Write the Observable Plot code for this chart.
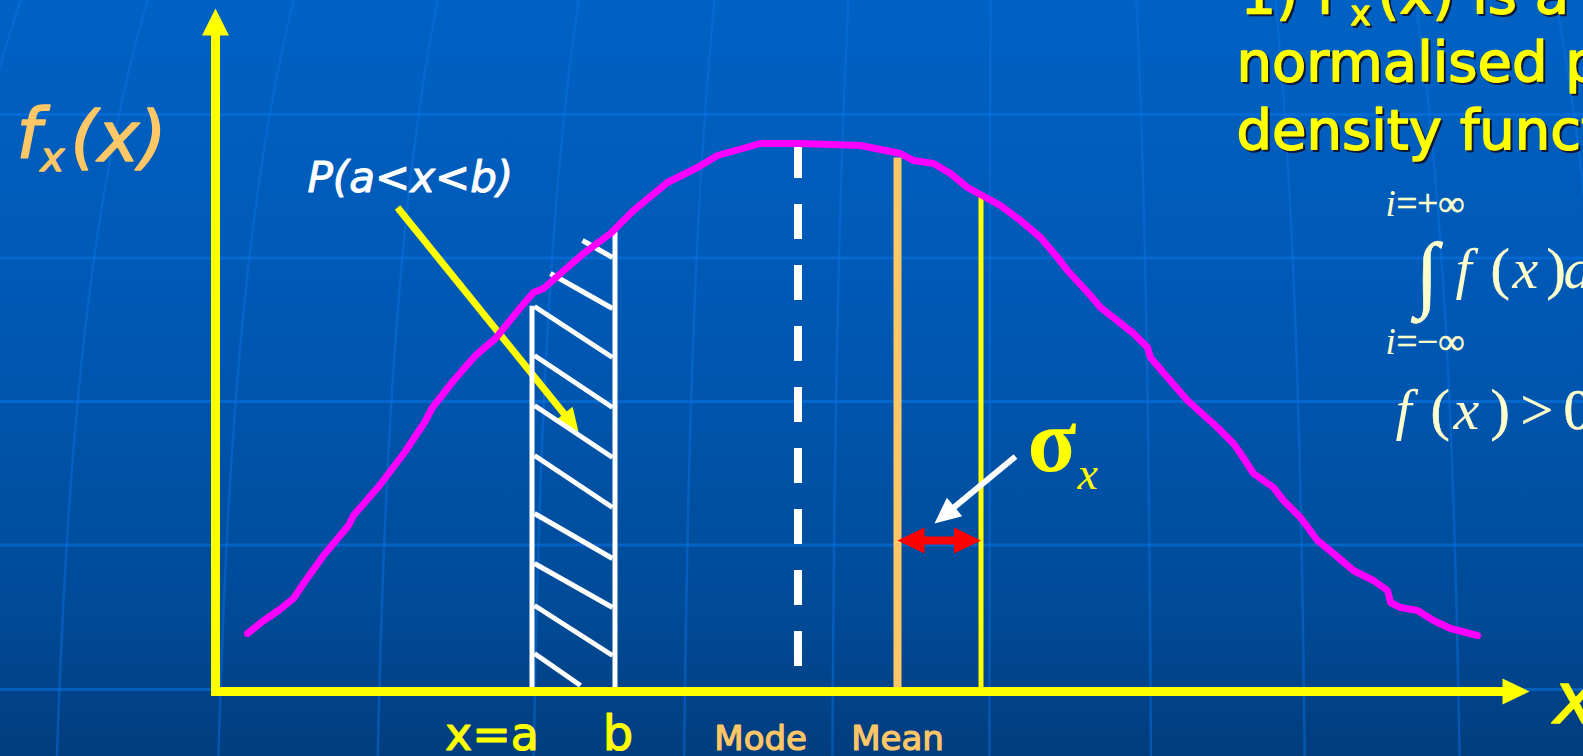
<!DOCTYPE html>
<html>
<head>
<meta charset="utf-8">
<title>Probability density function</title>
<script src="https://cdn.jsdelivr.net/npm/d3@7"></script>
<script src="https://cdn.jsdelivr.net/npm/@observablehq/plot@0.6"></script>
<style>
  html, body { margin: 0; padding: 0; overflow: hidden; background: #0256ad; }
  #chart svg {
    display: block;
    overflow: hidden;
    background: linear-gradient(to bottom, #0062c4 0%, #0057b2 45%, #004b98 80%, #023d7e 100%);
  }
</style>
</head>
<body>
<div id="chart"></div>
<script>
// ---- Sketched density curve f_x(x) (x along the axis, height = density) ----
const curveX = [0.32, 0.47, 0.63, 0.78, 0.88, 1.08, 1.33, 1.38, 1.64, 1.89, 2.09, 2.17, 2.39, 2.60, 2.80,
  3.05, 3.18, 3.28, 3.45, 3.68, 3.95, 4.18, 4.52, 4.82, 5.02, 5.45, 5.85, 6.45, 6.85, 6.98, 7.18, 7.35,
  7.52, 7.85, 8.05, 8.25, 8.42, 8.52, 8.63, 8.75, 8.85, 9.18, 9.32, 9.35, 9.52, 9.72, 10.02, 10.18,
  10.25, 10.38, 10.58, 10.68, 10.85, 11.02, 11.18, 11.38, 11.58, 11.72, 11.75, 11.85, 12.02, 12.18,
  12.35, 12.62];
const curveY = [0.58, 0.70, 0.81, 0.93, 1.08, 1.36, 1.66, 1.76, 2.06, 2.39, 2.69, 2.84, 3.12, 3.36, 3.53,
  3.84, 3.99, 4.03, 4.18, 4.38, 4.58, 4.81, 5.09, 5.24, 5.36, 5.48, 5.48, 5.46, 5.38, 5.31, 5.28, 5.18,
  5.04, 4.86, 4.71, 4.54, 4.34, 4.21, 4.09, 3.96, 3.84, 3.58, 3.44, 3.34, 3.14, 2.91, 2.64, 2.48,
  2.38, 2.18, 2.04, 1.91, 1.74, 1.51, 1.38, 1.21, 1.11, 1.01, 0.89, 0.84, 0.81, 0.71,
  0.63, 0.56];

// ---- Key positions on the x axis ----
const a = 3.165, b = 3.995;          // interval for P(a<x<b)
const mode = 5.825, mean = 6.82;      // mode and mean
const sigma = 0.835;                  // one standard deviation
const sigmaLevel = 1.51;              // height of the σ marker

// ---- Hatching of the area between a and b (left end, right end) ----
const hatchX1 = [3.67, 3.35, 3.19, 3.19, 3.19, 3.19, 3.19, 3.19, 3.19, 3.19];
const hatchY1 = [4.51, 4.18, 3.85, 3.36, 2.86, 2.36, 1.78, 1.28, 0.86, 0.38];
const hatchX2 = [3.97, 3.97, 3.97, 3.97, 3.97, 3.97, 3.97, 3.97, 3.97, 3.65];
const hatchY2 = [4.34, 3.83, 3.34, 2.84, 2.34, 1.84, 1.33, 0.84, 0.36, 0.06];

// ---- Axis extents ----
const axisTop = 6.83, axisRight = 13.14;

// ---- Labels under the x axis ----
const tickLabels = ["x=a", "b", "Mode", "Mean"];
const tickAt = [a + 0.07, b + 0.03, mode + 0.09, mean];
const tickAnchor = ["end", "middle", "end", "middle"];
const tickSize = [46, 48, 34, 34];
const tickColor = ["#ffff00", "#ffff00", "#ffc766", "#ffc766"];
const tickBaseline = -0.585;

// ---- Note in the upper right corner ----
const noteText = ["1)", "f", "x", "(x) is a", "normalised pr", "density funct"];
const noteX = [10.25, 11.01, 11.35, 11.62, 10.21, 10.21];
const noteY = [6.79, 6.79, 6.67, 6.79, 6.11, 5.43];
const noteSize = [56, 56, 34, 56, 56, 56];

// ---- Normalisation formula ----
const formulaText = ["i", "=+∞", "∫", "f", "(", "x", ")", "dx = 1", "i", "=−∞", "f", "(", "x", ")", ">", "0"];
const formulaX = [11.70, 11.81, 12.00, 12.40, 12.75, 12.97, 13.31, 13.48, 11.70, 11.81, 11.80, 12.15, 12.38, 12.75, 13.05, 13.48];
const formulaY = [4.76, 4.76, 3.91, 4.04, 4.04, 4.04, 4.04, 4.04, 3.38, 3.38, 2.63, 2.63, 2.63, 2.63, 2.63, 2.63];
const formulaSize = [37, 37, 84, 58, 58, 58, 58, 58, 37, 37, 58, 58, 58, 58, 58, 58];
const formulaItalic = [1, 0, 0, 1, 0, 1, 0, 1, 1, 0, 1, 0, 1, 0, 0, 0];

// ---- Backdrop grid ----
const gridY = [5.77, 4.335, 2.90, 1.465, 0.02];
const meridianTops = [-1.95, -0.68, 0.78, 2.22, 3.63, 4.99, 6.33, 7.75, 9.21, 10.60, 12.00, 13.40];

const xDomain = [-2.15, 13.68];
const yDomain = [-0.65, 6.91];
const FONT = "DejaVu Sans";
const SERIF = "Liberation Serif";
const ORANGE = "#ffc766";
const YELLOW = "#ffff00";
const CREAM = "#ffffcc";

const curve = curveX.map((x, i) => ({x, y: curveY[i]}));
const densityAt = (x) => {
  const i = Math.max(1, d3.bisectLeft(curveX, x));
  const t = (x - curveX[i - 1]) / (curveX[i] - curveX[i - 1]);
  return curveY[i - 1] + t * (curveY[i] - curveY[i - 1]);
};

// Meridians of the backdrop fan out slightly toward the bottom
const fanCentre = 7.85;
const meridians = meridianTops.flatMap((x0, id) => d3.range(0, 64).map((k) => {
  const t = k * 0.12;
  const f = 1 + 0.12 * (1 - Math.exp(-t / 3.5));
  return {id, x: fanCentre + (x0 - fanCentre) * f, y: yDomain[1] - t};
}));

// Arrow shafts end just short of the tip; heads are filled triangles
function arrowParts(arrows) {
  const shafts = [], heads = [];
  arrows.forEach((s, id) => {
    const dx = s.x2 - s.x1, dy = s.y2 - s.y1, n = Math.hypot(dx, dy);
    const ux = dx / n, uy = dy / n;
    const bx = s.x2 - ux * s.len, by = s.y2 - uy * s.len;
    shafts.push({x1: s.x1, y1: s.y1, x2: s.x2 - ux * s.len * 0.8, y2: s.y2 - uy * s.len * 0.8});
    heads.push(
      {id, x: s.x2, y: s.y2},
      {id, x: bx - uy * s.half, y: by + ux * s.half},
      {id, x: bx + uy * s.half, y: by - ux * s.half}
    );
  });
  return {shafts, heads};
}

const axes = arrowParts([
  {x1: 0, y1: -0.045, x2: 0, y2: axisTop, len: 0.27, half: 0.135},
  {x1: -0.045, y1: 0, x2: axisRight, y2: 0, len: 0.27, half: 0.13}
]);
const pointerP = arrowParts([{x1: 1.82, y1: 4.84, x2: 3.63, y2: 2.60, len: 0.23, half: 0.11}]);
const pointerSigma = arrowParts([{x1: 8.00, y1: 2.35, x2: 7.19, y2: 1.68, len: 0.26, half: 0.12}]);
const sigmaSpan = arrowParts([
  {x1: mean + sigma / 2, y1: sigmaLevel, x2: mean, y2: sigmaLevel, len: 0.27, half: 0.13},
  {x1: mean + sigma / 2, y1: sigmaLevel, x2: mean + sigma, y2: sigmaLevel, len: 0.27, half: 0.13}
]);

const hatch = hatchX1.map((x1, i) => ({x1, y1: hatchY1[i], x2: hatchX2[i], y2: hatchY2[i]}));

// Text pieces laid out from start positions, baseline at y
function pieces(idx, texts, xs, ys, opts) {
  return Plot.text(idx, {
    x: (i) => xs[i], y: (i) => ys[i], text: (i) => texts[i],
    textAnchor: "start", lineAnchor: "bottom", ...opts
  });
}
const indices = (arr) => arr.map((_, i) => i);

const shafts = (parts, stroke, strokeWidth) =>
  Plot.link(parts.shafts, {x1: "x1", y1: "y1", x2: "x2", y2: "y2", stroke, strokeWidth});
const heads = (parts, fill) =>
  Plot.line(parts.heads, {x: "x", y: "y", z: "id", fill, stroke: "none", curve: "linear-closed"});

const formulaIdx = indices(formulaText);
const tickIdx = indices(tickLabels);

const chart = Plot.plot({
  width: 1583,
  height: 756,
  margin: 0,
  x: {domain: xDomain, axis: null},
  y: {domain: yDomain, axis: null},
  marks: [
    // backdrop grid
    Plot.ruleY(gridY, {stroke: "#0a74e6", strokeWidth: 3, strokeOpacity: 0.55}),
    Plot.line(meridians, {x: "x", y: "y", z: "id", stroke: "#0a74e6", strokeWidth: 2.5, strokeOpacity: 0.45}),

    // mode, mean and mean + σ
    Plot.ruleX([mode], {y1: densityAt(mode), y2: 0, stroke: "white", strokeWidth: 8, strokeDasharray: "35,26"}),
    Plot.ruleX([mean], {y1: densityAt(mean) - 0.05, y2: 0, stroke: ORANGE, strokeWidth: 8}),
    Plot.ruleX([mean + sigma], {y1: densityAt(mean + sigma) - 0.03, y2: 0, stroke: YELLOW, strokeWidth: 5}),

    // pointer from the probability label into the shaded strip
    shafts(pointerP, YELLOW, 7),
    heads(pointerP, YELLOW),

    // hatched area between a and b
    Plot.ruleX([a], {y1: 0, y2: densityAt(a) - 0.12, stroke: "white", strokeWidth: 5}),
    Plot.ruleX([b], {y1: 0, y2: densityAt(b) - 0.01, stroke: "white", strokeWidth: 5}),
    Plot.link(hatch, {x1: "x1", y1: "y1", x2: "x2", y2: "y2", stroke: "white", strokeWidth: 5}),

    // the density curve
    Plot.line(curve, {x: "x", y: "y", stroke: "#ff00ff", strokeWidth: 7, strokeLinejoin: "round", strokeLinecap: "round"}),

    // σ span and its pointer
    shafts(sigmaSpan, "#ff0000", 8),
    heads(sigmaSpan, "#ff0000"),
    shafts(pointerSigma, "white", 6),
    heads(pointerSigma, "white"),

    // axes
    shafts(axes, YELLOW, 9),
    heads(axes, YELLOW),

    // axis labels
    pieces([0, 1, 2], ["f", "x", "(x)"], [-1.99, -1.75, -1.45], [5.34, 5.21, 5.31], {
      fontFamily: FONT, fontStyle: "italic", fontSize: (i) => [70, 40, 70][i],
      fill: ORANGE, stroke: ORANGE, strokeWidth: 1.5
    }),
    pieces([0], ["x"], [13.38], [-0.31], {
      fontFamily: FONT, fontStyle: "italic", fontSize: 72, fill: YELLOW, stroke: YELLOW, strokeWidth: 1.5
    }),
    ...["start", "middle", "end"].map((anchor) =>
      pieces(tickIdx.filter((i) => tickAnchor[i] === anchor), tickLabels, tickAt, tickLabels.map(() => tickBaseline), {
        textAnchor: anchor, fontFamily: FONT, fontSize: (i) => tickSize[i],
        fill: (i) => tickColor[i], stroke: (i) => tickColor[i], strokeWidth: 1.2
      })),

    // probability label
    pieces([0], ["P(a<x<b)"], [0.92], [5.00], {
      fontFamily: FONT, fontStyle: "italic", fontSize: 42, fill: "white", stroke: "white", strokeWidth: 1
    }),

    // σ label
    pieces([0], ["σ"], [8.12], [2.21], {fontFamily: SERIF, fontWeight: "bold", fontSize: 90, fill: YELLOW}),
    pieces([0], ["x"], [8.62], [2.03], {fontFamily: SERIF, fontStyle: "italic", fontSize: 46, fill: YELLOW}),

    // note (drop shadow added below)
    pieces(indices(noteText), noteText, noteX, noteY, {
      fontFamily: FONT, fontSize: (i) => noteSize[i], fill: YELLOW, stroke: YELLOW, strokeWidth: 1.5,
      ariaDescription: "note"
    }),

    // normalisation conditions
    pieces(formulaIdx.filter((i) => formulaItalic[i]), formulaText, formulaX, formulaY, {
      fontFamily: SERIF, fontStyle: "italic", fontSize: (i) => formulaSize[i], fill: CREAM
    }),
    pieces(formulaIdx.filter((i) => !formulaItalic[i]), formulaText, formulaX, formulaY, {
      fontFamily: SERIF, fontSize: (i) => formulaSize[i], fill: CREAM, stroke: CREAM, strokeWidth: 0.6
    })
  ]
});

// dark drop shadow behind the note
d3.select(chart).selectAll("g[aria-description='note']")
  .style("filter", "drop-shadow(2.5px 2.5px 0px #10183a)");

document.getElementById("chart").append(chart);
</script>
</body>
</html>
